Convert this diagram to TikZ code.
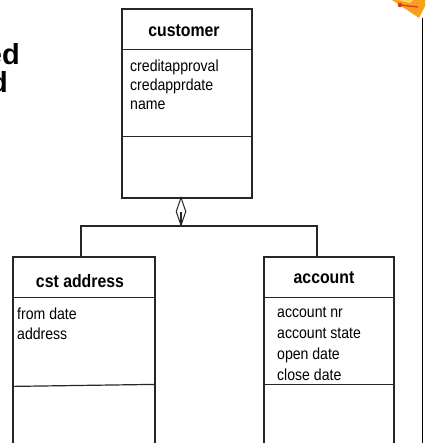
\documentclass[tikz,border=0pt]{standalone}
\usepackage{fontspec}
\setmainfont{Liberation Sans}
\newfontfamily\narrowsans[FakeStretch=0.88]{Liberation Sans}
\usetikzlibrary{shapes.geometric}
\definecolor{logoorange}{HTML}{F6A11B}
\definecolor{logoyellow}{HTML}{FFD15C}
\definecolor{logored}{HTML}{E8312A}
\begin{document}
\begin{tikzpicture}[x=1pt,y=-1pt,
  umlbox/.style={draw=black!85, line width=1.2pt, inner sep=0pt},
  rule/.style={draw=black!85, line width=1.2pt},
  wire/.style={draw=black!85, line width=1.2pt},
  classtitle/.style={font=\narrowsans\fontsize{18}{21}\selectfont\bfseries, anchor=base, inner sep=0pt},
  attr/.style={font=\narrowsans\fontsize{16}{19}\selectfont, anchor=base west, inner sep=0pt},
  heading/.style={font=\fontsize{29}{34}\selectfont\bfseries, anchor=base east, inner sep=0pt}]
\useasboundingbox (0,0) rectangle (425,443);

% cut-off heading on the left
\node[heading] (h1) at (20,65) {ed};
\node[heading] (h2) at (8,93) {d};

% logo corner and frame edge on the right
\fill[logoorange] (392,0) -- (425,0) -- (425,6) -- (419,18) -- cycle;
\fill[logoyellow] (396,0) -- (413,0) -- (410,3) -- cycle;
\draw[logored, line width=1.3pt] (400,5) -- (418,7);
\fill[logored] (400,5) circle (2.3);
\draw[black, line width=1.2pt] (422.5,18) -- (422.5,443);

% class boxes
\node[umlbox, minimum width=130pt, minimum height=189pt] (cust) at (187,103.5) {};
\node[umlbox, minimum width=142pt, minimum height=213pt] (addr) at (84,363.5) {};
\node[umlbox, minimum width=130pt, minimum height=213pt] (acct) at (329,363.5) {};

% compartment rules
\draw[rule] (cust.north west) ++(0,41) -- ++(130,0);
\draw[rule] (cust.north west) ++(0,128) -- ++(130,0);
\draw[rule] (addr.north west) ++(0,41) -- ++(142,0);
\draw[rule] (addr.north west) ++(0,130) -- ++(142,-2);
\draw[rule] (acct.north west) ++(0,41) -- ++(130,0);
\draw[rule] (acct.north west) ++(0,128) -- ++(130,0);

% customer
\node[classtitle] (custname) at (184,37) {customer};
\node[attr] (c1) at (130,72) {creditapproval};
\node[attr] (c2) at (130,91) {credapprdate};
\node[attr] (c3) at (130,110) {name};

% cst address
\node[classtitle] (addrname) at (80,287) {cst address};
\node[attr] (a1) at (17,319) {from date};
\node[attr] (a2) at (17,339) {address};

% account
\node[classtitle] (acctname) at (324,283) {account};
\node[attr] (b1) at (277,317) {account nr};
\node[attr] (b2) at (277,338) {account state};
\node[attr] (b3) at (277,359) {open date};
\node[attr] (b4) at (277,380) {close date};

% aggregation
\node[draw=black!85, diamond, minimum width=10pt, minimum height=28pt,
      inner sep=0pt, line width=1pt] (agg) at (181,211.5) {};
\coordinate (bar) at (agg.south);
\coordinate (xL) at (81,0);
\coordinate (xR) at (317,0);
\draw[wire] (agg.center) -- (agg.south);
\draw[wire] (addr.north -| xL) |- (bar) -| (acct.north -| xR);
\end{tikzpicture}
\end{document}
